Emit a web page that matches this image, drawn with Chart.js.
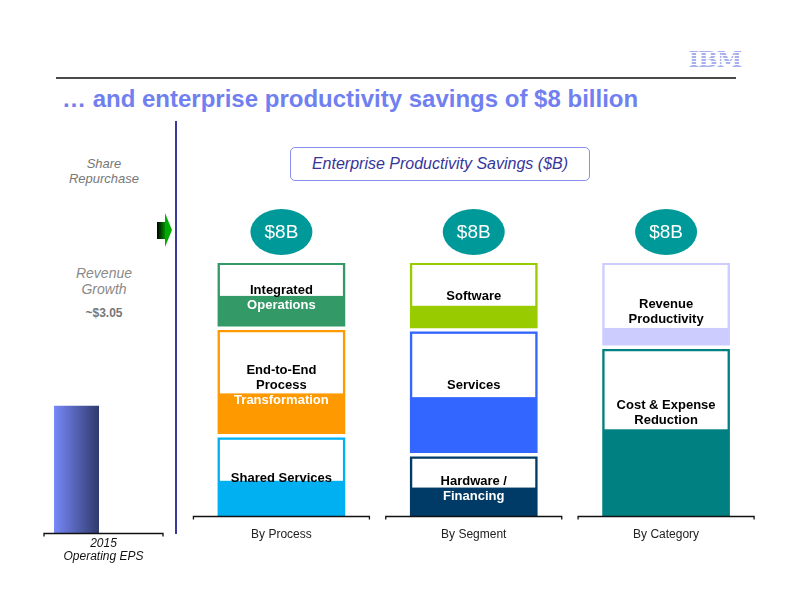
<!DOCTYPE html>
<html>
<head>
<meta charset="utf-8">
<script src="https://cdn.jsdelivr.net/npm/chart.js@4"></script>
<style>
  body { margin: 0; width: 792px; height: 612px; position: relative; overflow: hidden; background: #fff;
         font-family: "Liberation Sans", Arial, sans-serif; }
  .abs { position: absolute; }
  #title { left: 62px; top: 86px; font-size: 24px; line-height: 26px; font-weight: bold; color: #7080f0; white-space: nowrap; }
  #rule { left: 56px; top: 77px; width: 680px; height: 2px; background: #4a4a4a; }
  #logo { left: 688px; top: 47px; width: 54px; font-family: "DejaVu Serif", serif; font-weight: bold; font-size: 22px; line-height: 24px;
          letter-spacing: -1px; text-align: center; color: transparent;
          background: repeating-linear-gradient(to bottom, #a8b0ee 0 2px, #fff 2px 3px);
          -webkit-background-clip: text; background-clip: text; transform: scaleX(1.05); }
  .side { text-align: center; width: 160px; left: 24px; color: #777; font-style: italic; }
  #share { top: 156px; font-size: 13px; line-height: 15px; }
  #revenue { top: 265px; font-size: 14px; line-height: 16px; color: #8a8a8a; }
  #eps305 { top: 306px; font-size: 12px; line-height: 14px; font-style: normal; font-weight: bold; }
  #vline { left: 175px; top: 121px; width: 2px; height: 413px; background: #3a3a9e; }
  #box { left: 290px; top: 147px; width: 298px; height: 32px; border: 1px solid #8890f0; border-radius: 5px;
         text-align: center; line-height: 32px; font-size: 16px; font-style: italic; color: #36369a; }
  canvas { position: absolute; top: 0; }
</style>
</head>
<body>
<div id="rule" class="abs"></div>
<div id="logo" class="abs">IBM</div>
<div id="title" class="abs">… and enterprise productivity savings of $8 billion</div>
<div id="share" class="abs side">Share<br>Repurchase</div>
<div id="revenue" class="abs side">Revenue<br>Growth</div>
<div id="eps305" class="abs side">~$3.05</div>
<div id="vline" class="abs"></div>
<svg class="abs" style="left:150px;top:205px" width="26" height="50" viewBox="150 205 26 50">
  <defs>
    <linearGradient id="ag" x1="0" x2="1" y1="0" y2="0">
      <stop offset="0" stop-color="#000"/><stop offset="1" stop-color="#00a000"/>
    </linearGradient>
  </defs>
  <rect x="157" y="222" width="9" height="17" fill="url(#ag)"/>
  <polygon points="165,213 172,230 165,247" fill="#00aa00"/>
</svg>
<div id="box" class="abs">Enterprise Productivity Savings ($B)</div>

<canvas id="eps" width="180" height="612" style="left:0"></canvas>
<canvas id="savings" width="612" height="612" style="left:180px"></canvas>

<script>
// ---- data ($B), bottom segment first ----
const categories = ['By Process', 'By Segment', 'By Category'];
const processSavings = [2.6, 3.4, 2.0];      // Shared Services, End-to-End, Integrated Ops
const segmentSavings = [2.0, 3.95, 2.05];    // Hardware/Financing, Services, Software
const categorySavings = [5.4, 2.6];          // Cost & Expense, Revenue Productivity
const processLabels = [['Shared Services'], ['End-to-End', 'Process', 'Transformation'], ['Integrated', 'Operations']];
const segmentLabels = [['Hardware /', 'Financing'], ['Services'], ['Software']];
const categoryLabels = [['Cost & Expense', 'Reduction'], ['Revenue', 'Productivity']];

const epsLabel = ['2015', 'Operating EPS'];
const epsValue = [11.5];

// ---- styles ----
const groupColors = [
  ['#00b0f0', '#ff9900', '#339966'],
  ['#003a66', '#3366ff', '#99cc00'],
  ['#008080', '#ccccff']
];
const whiteFrac = [[0.55, 0.61, 0.52], [0.52, 0.54, 0.66], [0.48, 0.79]];
const labelPos = [[0.49, 0.51, 0.52], [0.51, 0.425, 0.49], [0.37, 0.57]];
const GAP = 0.127;
const FONT = '"Liberation Sans", Arial, sans-serif';

const groups = [processSavings, segmentSavings, categorySavings];
const groupLabels = [processLabels, segmentLabels, categoryLabels];

// floating ranges, one dataset per stack level
const datasets = [0, 1, 2].map(level => {
  const data = groups.map(vals => {
    if (level >= vals.length) return null;
    const start = vals.slice(0, level).reduce((a, b) => a + b, 0);
    const isTop = level === vals.length - 1;
    return [start, start + vals[level] - (isTop ? 0 : GAP)];
  });
  return {
    data,
    backgroundColor: groupColors.map(c => c[level] || '#fff'),
    borderWidth: 0,
    grouped: false,
    barThickness: 127
  };
});

const baseSegments = {
  id: 'baseSegments',
  afterDraw(chart, args, opts) {
    const ctx = chart.ctx, xs = chart.scales.x, y = Math.round(chart.chartArea.bottom) + 0.5;
    ctx.save();
    ctx.strokeStyle = '#111';
    ctx.lineWidth = 1.3;
    chart.data.labels.forEach((l, i) => {
      const cx = xs.getPixelForValue(i) + (opts.shift || 0);
      const a = cx - opts.half, b = cx + opts.half;
      ctx.beginPath();
      ctx.moveTo(a, y + 3); ctx.lineTo(a, y); ctx.lineTo(b, y); ctx.lineTo(b, y + 3);
      ctx.stroke();
    });
    ctx.restore();
  }
};

const segmentDecor = {
  id: 'segmentDecor',
  afterDatasetsDraw(chart) {
    const ctx = chart.ctx;
    ctx.save();
    ctx.textAlign = 'center';
    ctx.textBaseline = 'middle';
    chart.data.datasets.forEach((ds, level) => {
      chart.getDatasetMeta(level).data.forEach((bar, i) => {
        if (ds.data[i] == null) return;
        const { x, y, base, width } = bar.getProps(['x', 'y', 'base', 'width'], true);
        const top = Math.min(y, base), h = Math.abs(base - y);
        const whiteBottom = top + h * whiteFrac[i][level];
        ctx.fillStyle = '#fff';
        ctx.fillRect(x - width / 2 + 2, top + 2, width - 4, whiteBottom - top - 2);
        const lines = groupLabels[i][level];
        const cy = top + h * labelPos[i][level];
        ctx.font = 'bold 13px ' + FONT;
        lines.forEach((t, k) => {
          const ly = cy + (k - (lines.length - 1) / 2) * 15;
          ctx.fillStyle = ly < whiteBottom ? '#000' : '#fff';
          ctx.fillText(t, x, ly + 2);
        });
      });
    });
    // total badge above each stack
    const ys = chart.scales.y, xs = chart.scales.x;
    groups.forEach((vals, i) => {
      const total = Math.round(vals.reduce((a, b) => a + b, 0) * 10) / 10;
      const cx = xs.getPixelForValue(i), cy = ys.getPixelForValue(total) - 31;
      ctx.fillStyle = '#009999';
      ctx.beginPath();
      ctx.ellipse(cx, cy, 31, 23, 0, 0, Math.PI * 2);
      ctx.fill();
      ctx.fillStyle = '#fff';
      ctx.font = '19px ' + FONT;
      ctx.fillText('$' + total + 'B', cx, cy + 1);
    });
    ctx.restore();
  }
};

new Chart(document.getElementById('savings'), {
  type: 'bar',
  data: { labels: categories, datasets },
  options: {
    responsive: false,
    animation: false,
    events: [],
    layout: { padding: { left: 5.25, right: 29.75, top: 263, bottom: 59.6 } },
    plugins: { legend: { display: false }, tooltip: { enabled: false }, baseSegments: { half: 88 } },
    scales: {
      x: {
        grid: { display: false, drawTicks: false }, border: { display: false },
        ticks: { color: '#222', font: { family: FONT, size: 12 }, padding: 11 }
      },
      y: { display: false, min: 0, max: 8 }
    }
  },
  plugins: [segmentDecor, baseSegments]
});

// ---- 2015 EPS bar ----
const epsChart = new Chart(document.getElementById('eps'), {
  type: 'bar',
  data: {
    labels: [epsLabel],
    datasets: [
      {
        data: epsValue,
        borderWidth: 0,
        backgroundColor(c) {
          const el = c.chart.getDatasetMeta(0).data[c.dataIndex];
          if (!el || !isFinite(el.x) || !isFinite(el.width)) return '#5a68c0';
          const g = c.chart.ctx.createLinearGradient(el.x - el.width / 2, 0, el.x + el.width / 2, 0);
          g.addColorStop(0, '#7888f8');
          g.addColorStop(1, '#2f3a6c');
          return g;
        }
      },
      { data: [null] }
    ]
  },
  options: {
    responsive: false,
    animation: false,
    events: [],
    categoryPercentage: 0.9076,
    barPercentage: 0.833,
    layout: { padding: { left: 44, right: 17, top: 311.5, bottom: 44.6 } },
    plugins: { legend: { display: false }, tooltip: { enabled: false }, baseSegments: { half: 59.5 } },
    scales: {
      x: {
        grid: { display: false, drawTicks: false }, border: { display: false },
        ticks: { color: '#111', font: { family: FONT, size: 12, style: 'italic', lineHeight: 1.05 }, padding: 4.5 }
      },
      y: { display: false, min: 0, max: 20 }
    }
  },
  plugins: [baseSegments]
});
epsChart.update();
</script>
</body>
</html>
